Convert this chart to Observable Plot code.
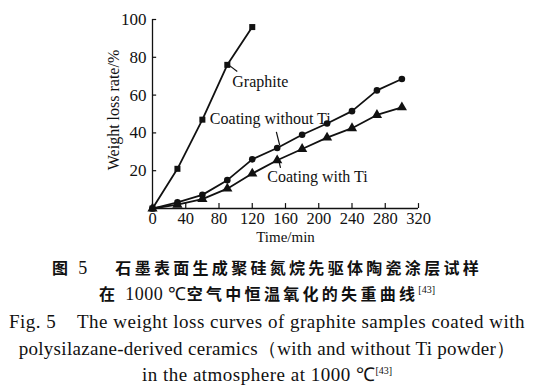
<!DOCTYPE html>
<html><head><meta charset="utf-8">
<script src="https://cdn.jsdelivr.net/npm/d3@7"></script>
<script src="https://cdn.jsdelivr.net/npm/@observablehq/plot@0.6"></script>
<style>
body{margin:0;background:#fff;width:534px;height:392px;overflow:hidden;position:relative;font-family:"Liberation Serif",serif;color:#111}
.cap{position:absolute;left:0;width:534px;text-align:center;white-space:nowrap;line-height:1}
.zh{font-family:"Noto Sans CJK SC";font-weight:bold;font-size:16px;letter-spacing:3.3px}
.num{font-family:"Liberation Serif",serif;font-weight:normal;letter-spacing:0.5px;font-size:18px}
.en{font-family:"Liberation Serif",serif;font-size:19px;letter-spacing:0.5px}
sup{font-size:10px;vertical-align:7px;font-family:"Liberation Serif",serif;font-weight:normal;letter-spacing:0}
</style></head><body>
<div id="chart"></div>
<div class="cap zh" style="top:259px">图 <span class="num">5</span>&nbsp;&nbsp;&nbsp; 石墨表面生成聚硅氮烷先驱体陶瓷涂层试样</div>
<div class="cap zh" style="top:285px">在 <span class="num">1000 ℃</span>空气中恒温氧化的失重曲线<sup>[43]</sup></div>
<div class="cap en" style="top:312px">Fig. 5&nbsp;&nbsp;&nbsp; The weight loss curves of graphite samples coated with</div>
<div class="cap en" style="top:339px;letter-spacing:0.3px">polysilazane-derived ceramics（with and without Ti powder）</div>
<div class="cap en" style="top:365px">in the atmosphere at 1000 ℃<sup>[43]</sup></div>
<script>
const graphiteTime = [0, 30, 60, 90, 120];
const graphiteLoss = [0, 21, 47, 76, 96];
const coatTime = [0, 30, 60, 90, 120, 150, 180, 210, 240, 270, 300];
const noTiLoss = [0, 3.3, 7.2, 15, 26, 32, 39, 45, 51.5, 62.5, 68.5];
const withTiLoss = [0, 2, 5, 10.5, 18.5, 25.5, 31.5, 37.5, 42.5, 49.5, 53.5];
const xTicks = [0, 40, 80, 120, 160, 200, 240, 280, 320];
const yTicks = [20, 40, 60, 80, 100];
const labels = ["Graphite", "Coating without Ti", "Coating with Ti"];
const labelX = [96, 69, 138];
const labelY = [67, 47.5, 16.5];
const leaderX1 = [91.5, 149, 151];
const leaderY1 = [76, 40.5, 27];
const leaderX2 = [102, 153, 154];
const leaderY2 = [72.5, 33.5, 21.5];

const g = graphiteTime.map((t, i) => ({t, v: graphiteLoss[i]}));
const a = coatTime.map((t, i) => ({t, v: noTiLoss[i]}));
const b = coatTime.map((t, i) => ({t, v: withTiLoss[i]}));
const lab = labels.map((s, i) => ({s, x: labelX[i], y: labelY[i]}));
const lead = labels.map((s, i) => ({x1: leaderX1[i], y1: leaderY1[i], x2: leaderX2[i], y2: leaderY2[i]}));

const plot = Plot.plot({
  width: 534, height: 250,
  marginTop: 19, marginBottom: 42, marginLeft: 152, marginRight: 116,
  style: {fontFamily: "Liberation Serif, serif", fontSize: "16px", color: "#111", background: "transparent"},
  x: {domain: [0, 320]},
  y: {domain: [0, 100]},
  marks: [
    Plot.ruleX([0], {y1: 0, y2: 100, stroke: "#111", strokeWidth: 1.3}),
    Plot.ruleY([0], {x1: 0, x2: 320, stroke: "#111", strokeWidth: 1.3}),
    Plot.ruleY(yTicks, {y: d => d, x1: 0, x2: 5, stroke: "#111", strokeWidth: 1.2}),
    Plot.ruleX(xTicks.filter(d => d > 0), {x: d => d, y1: 0, y2: 2.6, stroke: "#111", strokeWidth: 1.2}),
    Plot.axisY({ticks: yTicks, tickSize: 0, tickPadding: 6, fontSize: 17, label: null}),
    Plot.axisX({ticks: xTicks, tickSize: 0, tickPadding: 4, fontSize: 16.5, label: null}),
    Plot.text(["Weight loss rate/%"], {frameAnchor: "left", textAnchor: "middle", dx: -39, dy: -4, rotate: -90, fontSize: 16, text: d => d, style: "letter-spacing:0.6px"}),
    Plot.text(["Time/min"], {frameAnchor: "bottom", dy: 33, fontSize: 15, text: d => d}),
    Plot.line(g, {x: "t", y: "v", stroke: "#111", strokeWidth: 1.8}),
    Plot.line(a, {x: "t", y: "v", stroke: "#111", strokeWidth: 1.8}),
    Plot.line(b, {x: "t", y: "v", stroke: "#111", strokeWidth: 1.8}),
    Plot.dot(g, {x: "t", y: "v", symbol: "square", r: 3.4, fill: "#111"}),
    Plot.dot(a, {x: "t", y: "v", symbol: "circle", r: 3.3, fill: "#111"}),
    Plot.dot(b, {x: "t", y: "v", symbol: "triangle", r: 3.8, fill: "#111"}),
    Plot.link(lead, {x1: "x1", y1: "y1", x2: "x2", y2: "y2", stroke: "#111", strokeWidth: 1.2}),
    Plot.text(lab, {x: "x", y: "y", text: "s", textAnchor: "start", fontSize: 16, fill: "#111"})
  ]
});
document.getElementById("chart").appendChild(plot);
</script>
</body></html>
